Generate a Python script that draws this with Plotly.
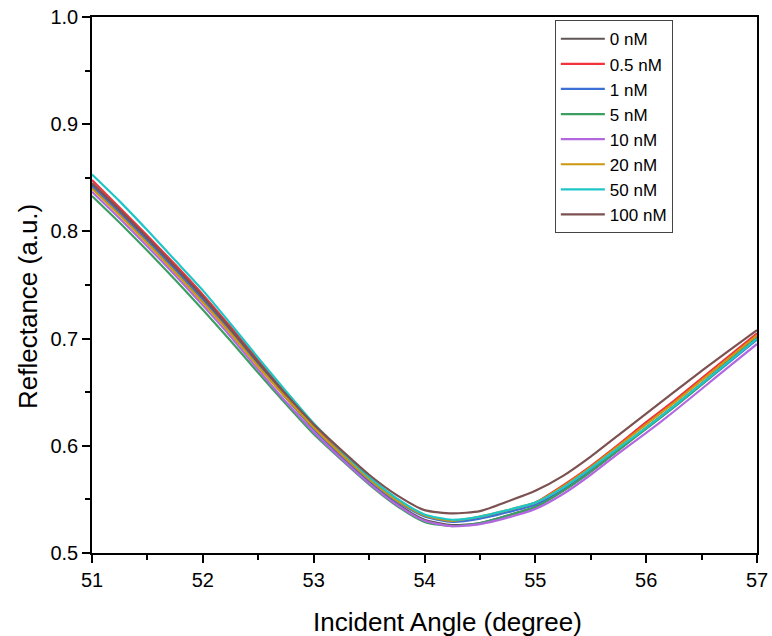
import plotly.graph_objects as go

angle = [51.00, 51.25, 51.50, 51.75, 52.00, 52.25, 52.50, 52.75, 53.00, 53.25, 53.50, 53.75,
         54.00, 54.25, 54.50, 54.75, 55.00, 55.25, 55.50, 55.75, 56.00, 56.25, 56.50, 56.75, 57.00]

r_0nM = [0.843, 0.818, 0.792, 0.765, 0.737, 0.707, 0.676, 0.645, 0.616, 0.590, 0.566, 0.546,
         0.531, 0.526, 0.528, 0.535, 0.543, 0.558, 0.576, 0.596, 0.617, 0.637, 0.658, 0.680, 0.701]
r_05nM = [0.848, 0.822, 0.796, 0.769, 0.741, 0.711, 0.680, 0.649, 0.620, 0.594, 0.570, 0.550,
          0.535, 0.530, 0.533, 0.539, 0.547, 0.563, 0.581, 0.601, 0.622, 0.642, 0.663, 0.684, 0.705]
r_1nM = [0.842, 0.817, 0.791, 0.764, 0.736, 0.706, 0.675, 0.645, 0.616, 0.591, 0.568, 0.548,
         0.534, 0.529, 0.532, 0.538, 0.545, 0.559, 0.577, 0.597, 0.616, 0.636, 0.657, 0.678, 0.699]
r_5nM = [0.833, 0.808, 0.782, 0.755, 0.727, 0.698, 0.668, 0.639, 0.611, 0.587, 0.564, 0.544,
         0.529, 0.525, 0.528, 0.535, 0.543, 0.558, 0.576, 0.596, 0.616, 0.636, 0.657, 0.679, 0.700]
r_10nM = [0.837, 0.812, 0.786, 0.759, 0.731, 0.702, 0.671, 0.641, 0.613, 0.588, 0.565, 0.545,
          0.530, 0.525, 0.527, 0.533, 0.541, 0.555, 0.573, 0.593, 0.612, 0.632, 0.653, 0.674, 0.695]
r_20nM = [0.840, 0.815, 0.789, 0.762, 0.734, 0.705, 0.674, 0.645, 0.617, 0.592, 0.569, 0.549,
          0.535, 0.530, 0.534, 0.540, 0.547, 0.562, 0.580, 0.600, 0.620, 0.640, 0.661, 0.682, 0.703]
r_50nM = [0.853, 0.828, 0.801, 0.773, 0.745, 0.714, 0.682, 0.651, 0.621, 0.595, 0.571, 0.551,
          0.536, 0.531, 0.534, 0.540, 0.547, 0.561, 0.579, 0.598, 0.617, 0.637, 0.658, 0.679, 0.700]
r_100nM = [0.845, 0.820, 0.794, 0.767, 0.739, 0.709, 0.678, 0.648, 0.620, 0.596, 0.573, 0.554,
           0.540, 0.537, 0.539, 0.548, 0.558, 0.572, 0.590, 0.610, 0.630, 0.650, 0.670, 0.689, 0.708]

labels = ["0 nM", "0.5 nM", "1 nM", "5 nM", "10 nM", "20 nM", "50 nM", "100 nM"]
series = [r_0nM, r_05nM, r_1nM, r_5nM, r_10nM, r_20nM, r_50nM, r_100nM]
colors = ["#5f5656", "#f2333c", "#3d6fd6", "#3d9e62", "#b267df", "#cc960e", "#1ec6c8", "#7c5151"]

x_title = "Incident Angle (degree)"
y_title = "Reflectance (a.u.)"

fig = go.Figure()
for lab, ys, col in zip(labels, series, colors):
    fig.add_trace(go.Scatter(x=angle, y=ys, mode="lines", name=lab,
                             line=dict(color=col, width=2.2, shape="spline", smoothing=0.6)))

font_family = "Arial, Liberation Sans, sans-serif"
fig.update_layout(
    width=772, height=636,
    margin=dict(l=92, r=15, t=17, b=83),
    paper_bgcolor="white", plot_bgcolor="white",
    font=dict(family=font_family, color="black"),
    showlegend=True,
    legend=dict(x=0.696, y=0.994, xanchor="left", yanchor="top",
                bordercolor="#444444", borderwidth=1, bgcolor="rgba(255,255,255,0)",
                font=dict(size=17, family=font_family), tracegroupgap=0,
                itemwidth=44),
)
fig.add_annotation(text=x_title, xref="paper", yref="paper", x=0.534, y=0,
                   xanchor="center", yanchor="top", yshift=-52, showarrow=False,
                   font=dict(size=26, family=font_family, color="black"))
fig.add_annotation(text=y_title, xref="paper", yref="paper", x=0, y=0.459,
                   xanchor="center", yanchor="middle", xshift=-64, textangle=-90,
                   showarrow=False,
                   font=dict(size=26, family=font_family, color="black"))
fig.update_xaxes(
    range=[51, 57], dtick=1, tick0=51, automargin=False,
    showgrid=False, zeroline=False,
    showline=True, linecolor="black", linewidth=1.5, mirror=True,
    ticks="outside", ticklen=8, tickwidth=1.5, tickcolor="black",
    minor=dict(ticks="outside", dtick=0.5, ticklen=5, tickwidth=1.5, tickcolor="black"),
    tickfont=dict(size=20),
)
fig.update_yaxes(
    range=[0.5, 1.0], dtick=0.1, tick0=0.5, tickformat=".1f", automargin=False,
    showgrid=False, zeroline=False,
    showline=True, linecolor="black", linewidth=1.5, mirror=True,
    ticks="outside", ticklen=8, tickwidth=1.5, tickcolor="black",
    minor=dict(ticks="outside", dtick=0.05, ticklen=5, tickwidth=1.5, tickcolor="black"),
    tickfont=dict(size=20),
)

fig.write_html("out.html")
